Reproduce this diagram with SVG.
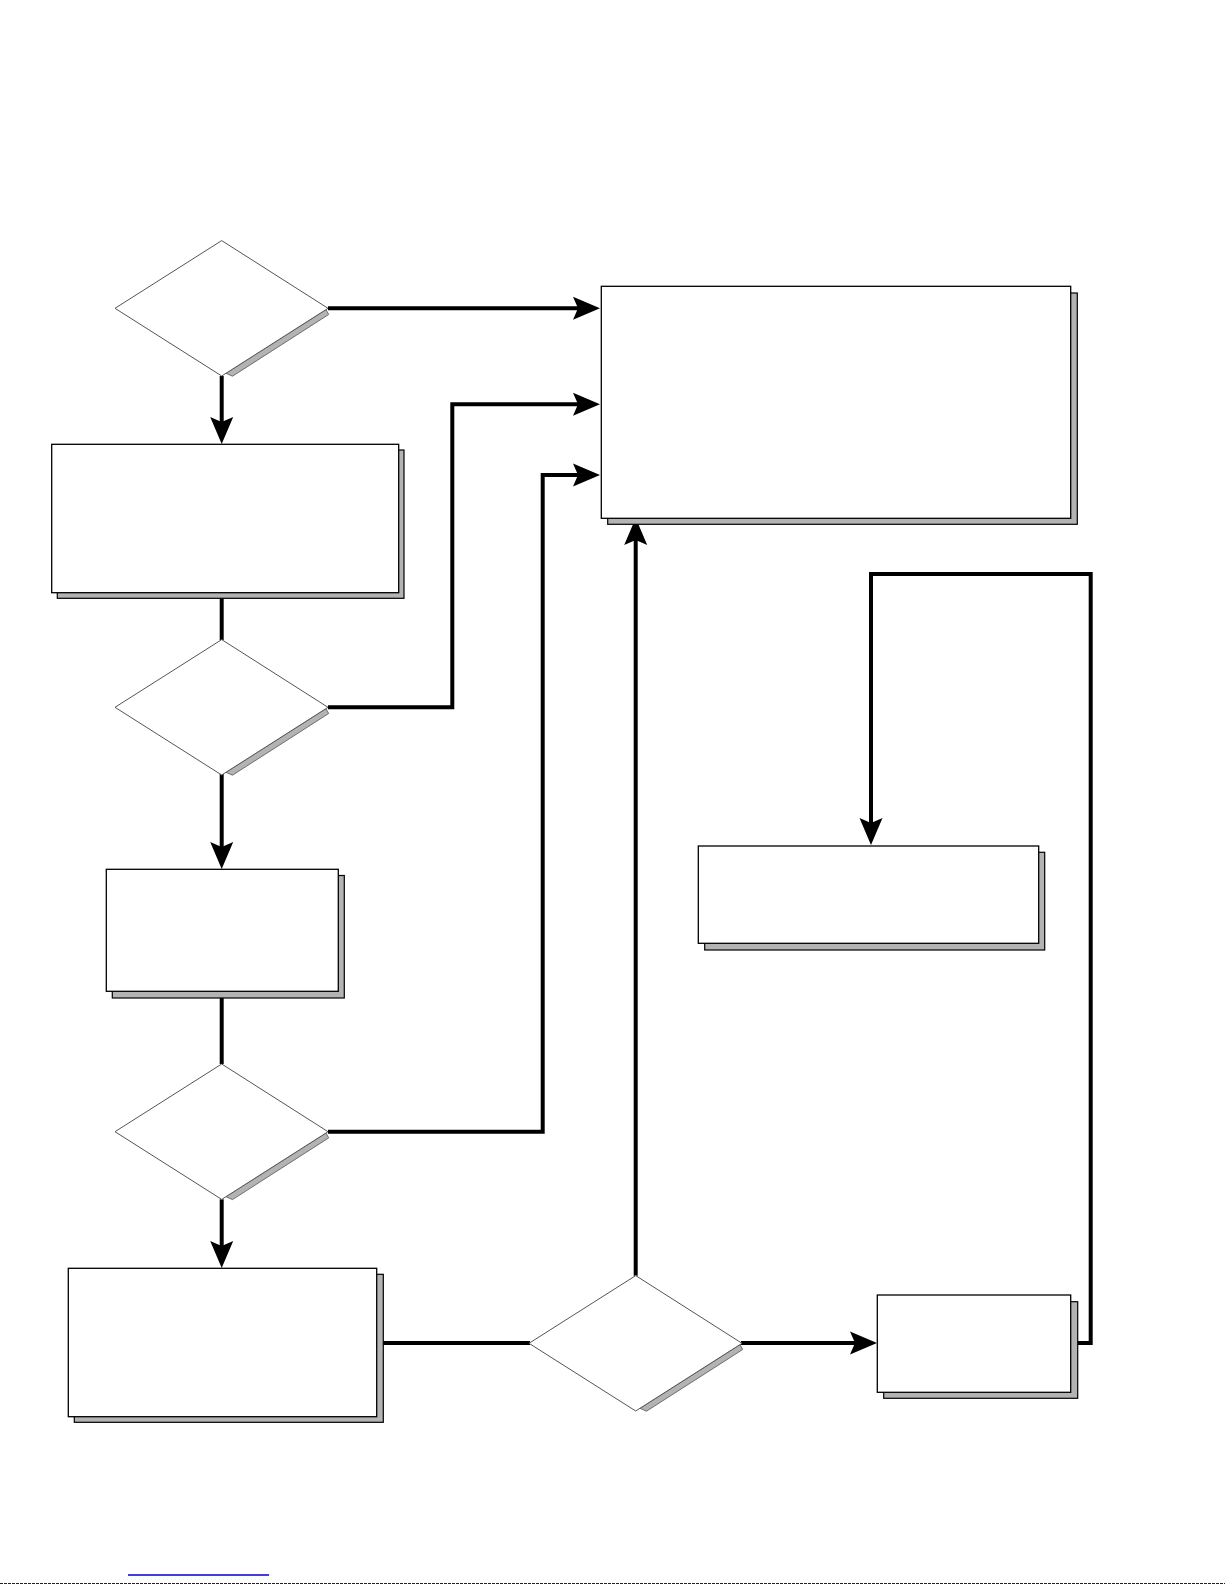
<svg xmlns="http://www.w3.org/2000/svg" width="1225" height="1585" viewBox="0 0 1225 1585">
<style>
.bg{fill:#ffffff}
.box{fill:#ffffff;stroke:#000000;stroke-width:1.3}
.shadow{fill:#b3b3b3;stroke:#000000;stroke-width:1.2}
.dia{fill:#ffffff;stroke:#555555;stroke-width:1}
.dshadow{fill:#b3b3b3;stroke:#555555;stroke-width:0.8}
.conn{fill:none;stroke:#000000;stroke-width:4;stroke-linejoin:miter}
</style>
<defs>
<marker id="arrow" markerUnits="userSpaceOnUse" viewBox="-8 -12 30 24" markerWidth="30" markerHeight="24" refX="0" refY="0" orient="auto" overflow="visible">
<path d="M20,0 L-7,-11.5 L-2,0 L-7,11.5 Z" fill="#000000"/>
</marker>
<polygon id="dstrip" class="dshadow" points="4.3,65 10.8,67.9 107,6.2 104.3,1.3"/>
<polygon id="dshape" class="dia" points="0,-67.7 106.3,0 0,67.7 -106.7,0"/>
</defs>
<rect class="bg" x="0" y="0" width="1225" height="1585"/>

<g id="connectors">
<path class="conn" d="M328,308.3 H580" marker-end="url(#arrow)"/>
<path class="conn" d="M221.7,376 V424" marker-end="url(#arrow)"/>
<path class="conn" d="M221.7,598 V640"/>
<path class="conn" d="M328,707.3 H452.3 V404.3 H580" marker-end="url(#arrow)"/>
<path class="conn" d="M221.7,774 V849" marker-end="url(#arrow)"/>
<path class="conn" d="M221.7,998 V1064"/>
<path class="conn" d="M328,1131.7 H542.7 V475 H580" marker-end="url(#arrow)"/>
<path class="conn" d="M221.7,1199.3 V1248" marker-end="url(#arrow)"/>
<path class="conn" d="M383,1343 H530"/>
<path class="conn" d="M635.7,1275.7 V538" marker-end="url(#arrow)"/>
<path class="conn" d="M741,1343 H857" marker-end="url(#arrow)"/>
<path class="conn" d="M1078,1343 H1090.7 V574 H871 V825" marker-end="url(#arrow)"/>
</g>

<g id="decision1" transform="translate(221.7,308.3)">
<use href="#dstrip"/>
<use href="#dshape"/>
</g>
<g id="box1">
<rect class="shadow" x="607.7" y="293" width="469.6" height="231.3"/>
<rect class="box" x="601.3" y="286.3" width="469.4" height="232"/>
</g>
<g id="box2">
<rect class="shadow" x="57.3" y="450" width="346.7" height="148.3"/>
<rect class="box" x="51.7" y="444.3" width="347" height="148.4"/>
</g>
<g id="decision2" transform="translate(221.7,707.3)">
<use href="#dstrip"/>
<use href="#dshape"/>
</g>
<g id="box3">
<rect class="shadow" x="112.3" y="875.5" width="232" height="122.5"/>
<rect class="box" x="106.3" y="869.3" width="232" height="122"/>
</g>
<g id="decision3" transform="translate(221.7,1131.7)">
<use href="#dstrip"/>
<use href="#dshape"/>
</g>
<g id="box4">
<rect class="shadow" x="74.3" y="1274.3" width="309" height="148"/>
<rect class="box" x="68.3" y="1268.3" width="308.4" height="148.4"/>
</g>
<g id="decision4" transform="translate(635.7,1343.3)">
<use href="#dstrip"/>
<use href="#dshape"/>
</g>
<g id="box5">
<rect class="shadow" x="883.7" y="1301.7" width="194" height="96.6"/>
<rect class="box" x="877.3" y="1295" width="193.4" height="97.3"/>
</g>
<g id="box6">
<rect class="shadow" x="704.7" y="852.3" width="340" height="97.7"/>
<rect class="box" x="698.3" y="846" width="340.4" height="97.3"/>
</g>

<line x1="128" y1="1575" x2="269" y2="1575" stroke="#0000cc" stroke-width="1.3"/>
<line x1="0" y1="1583.5" x2="1225" y2="1583.5" stroke="#222222" stroke-width="1" stroke-dasharray="3 1"/>
</svg>
